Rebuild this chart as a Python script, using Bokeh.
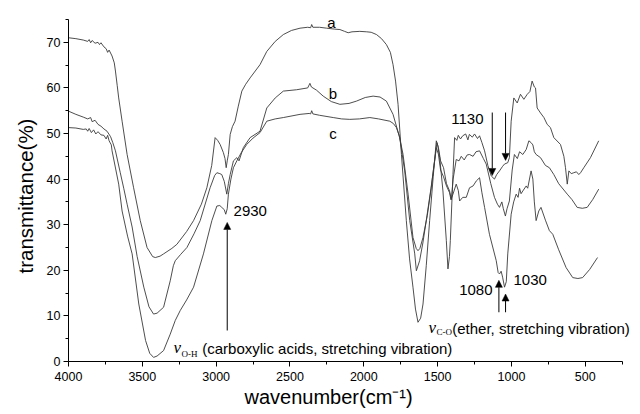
import math
from bokeh.plotting import figure
from bokeh.models import Range1d, FixedTicker, Label, Arrow, NormalHead, Title
from bokeh.embed import file_html
from bokeh.resources import INLINE

# ---- data ----
wn_a = [4000, 3950, 3900, 3870, 3860, 3850, 3840, 3820, 3800, 3790, 3780, 3760, 3745, 3735, 3725,
        3705, 3690, 3682, 3670, 3660, 3637, 3603, 3559, 3514, 3468, 3430, 3412, 3380, 3356, 3300,
        3266, 3200, 3153, 3100, 3063, 3030, 3007, 2990, 2973, 2951, 2940, 2932, 2925, 2917, 2905,
        2890, 2872, 2850, 2826, 2800, 2770, 2703, 2657, 2600, 2545, 2490, 2432, 2380, 2360, 2353,
        2345, 2300, 2252, 2200, 2162, 2130, 2106, 2080, 2027, 1980, 1950, 1914, 1880, 1847, 1820,
        1802, 1785, 1768, 1745, 1712, 1690, 1667, 1650, 1633, 1615, 1599, 1577, 1554, 1530, 1509,
        1500, 1486, 1464, 1441, 1430, 1420, 1414, 1396, 1385, 1370, 1360, 1345, 1330, 1310, 1295,
        1285, 1265, 1250, 1230, 1216, 1200, 1182, 1160, 1137, 1115, 1100, 1081, 1060, 1047, 1025,
        1014, 1002, 984, 961, 939, 916, 893, 875, 860, 845, 837, 826, 803, 780, 758, 736, 713, 668,
        645, 634, 622, 611, 595, 578, 560, 544, 532, 510, 465, 409]
t_a = [71.0, 70.8, 70.5, 70.2, 70.6, 69.9, 70.4, 69.8, 70.0, 69.5, 69.9, 69.0, 68.6, 67.8, 68.3,
       67.0, 65.5, 63.7, 60.5, 57.8, 52.7, 45.4, 38.1, 30.9, 25.0, 23.0, 22.8, 23.1, 23.6, 24.8,
       25.7, 28.5, 30.9, 34.5, 38.1, 43.0, 49.1, 48.5, 47.6, 45.8, 44.5, 42.5, 44.0, 45.4, 49.8,
       51.5, 52.7, 56.0, 59.3, 60.8, 62.2, 65.1, 68.0, 70.2, 71.7, 72.6, 73.1, 73.3, 73.2, 73.9,
       73.3, 73.3, 73.1, 72.9, 72.8, 72.4, 72.1, 72.3, 72.4, 72.3, 72.2, 71.7, 70.8, 69.5, 67.8,
       65.1, 61.5, 56.4, 45.4, 30.9, 22.5, 16.3, 11.5, 8.6, 9.5, 12.6, 21.0, 30.9, 40.5, 48.4,
       47.5, 44.7, 37.4, 26.5, 20.3, 23.0, 26.5, 41.0, 49.1, 48.5, 49.6, 48.8, 49.5, 49.9, 48.6,
       49.8, 49.2, 49.9, 48.9, 49.5, 48.0, 46.2, 43.0, 40.7, 40.0, 41.0, 41.8, 42.8, 43.3, 43.6,
       44.7, 52.7, 57.8, 56.7, 58.6, 57.5, 58.6, 59.2, 61.5, 60.2, 60.0, 55.6, 54.5, 53.5, 52.0,
       51.3, 49.1, 47.6, 45.0, 42.5, 38.9, 41.8, 41.2, 41.4, 41.6, 41.0, 41.4, 42.5, 44.7, 48.4]

wn_b = [4000, 3950, 3900, 3870, 3850, 3840, 3820, 3800, 3780, 3760, 3739, 3715, 3700, 3682, 3650,
        3626, 3603, 3569, 3535, 3490, 3455, 3424, 3400, 3356, 3311, 3290, 3277, 3240, 3198, 3150,
        3108, 3041, 3010, 2995, 2975, 2962, 2945, 2928, 2917, 2905, 2883, 2860, 2845, 2830, 2816,
        2770, 2703, 2657, 2600, 2545, 2455, 2380, 2365, 2355, 2320, 2275, 2220, 2162, 2100, 2050,
        1990, 1937, 1890, 1847, 1802, 1757, 1723, 1689, 1655, 1644, 1622, 1600, 1577, 1545, 1520,
        1505, 1495, 1480, 1460, 1440, 1419, 1407, 1395, 1374, 1355, 1340, 1320, 1300, 1284, 1260,
        1240, 1216, 1190, 1171, 1140, 1115, 1095, 1081, 1065, 1055, 1041, 1030, 1014, 995, 980,
        960, 945, 923, 900, 882, 867, 855, 845, 833, 803, 770, 743, 713, 680, 622, 590, 555, 520,
        487, 450, 409]
t_b = [54.9, 54.2, 53.6, 53.2, 53.5, 52.6, 52.9, 52.0, 51.6, 51.0, 50.5, 49.3, 48.0, 46.2, 41.5,
       38.0, 34.5, 29.5, 23.0, 16.3, 12.0, 10.4, 10.6, 11.9, 17.7, 21.0, 22.1, 23.5, 25.0, 28.0,
       30.9, 38.1, 40.8, 41.4, 41.2, 41.0, 39.5, 36.7, 39.0, 41.0, 44.0, 44.7, 44.0, 45.5, 46.9,
       49.1, 50.5, 55.6, 57.8, 59.3, 59.6, 60.0, 61.0, 60.2, 59.5, 58.2, 57.0, 56.4, 56.6, 57.1,
       57.9, 58.2, 58.0, 57.1, 54.2, 49.1, 41.8, 30.9, 23.6, 19.9, 22.1, 26.0, 30.9, 38.0, 44.0,
       48.0, 47.0, 44.0, 42.5, 39.0, 37.4, 35.5, 40.0, 44.3, 44.0, 45.0, 44.2, 45.3, 45.4, 45.0,
       46.0, 46.2, 44.5, 43.3, 39.0, 36.0, 34.5, 33.8, 35.0, 33.5, 31.9, 33.5, 35.2, 42.0, 45.4,
       44.5, 46.0, 45.4, 46.5, 48.4, 48.0, 47.5, 46.0, 45.4, 44.7, 43.0, 42.5, 41.0, 39.0, 36.7,
       35.5, 33.8, 33.6, 33.8, 35.5, 37.8]

wn_c = [4000, 3950, 3900, 3880, 3870, 3860, 3845, 3830, 3815, 3800, 3780, 3760, 3745, 3735, 3725,
        3710, 3705, 3660, 3637, 3600, 3569, 3524, 3478, 3450, 3424, 3400, 3356, 3311, 3277, 3243,
        3200, 3153, 3086, 3029, 2995, 2975, 2962, 2945, 2935, 2925, 2917, 2900, 2883, 2860, 2830,
        2793, 2750, 2703, 2657, 2600, 2545, 2432, 2370, 2360, 2353, 2345, 2300, 2207, 2150, 2095,
        2030, 1959, 1900, 1824, 1800, 1779, 1760, 1734, 1700, 1667, 1645, 1633, 1620, 1599, 1570,
        1543, 1525, 1509, 1495, 1480, 1460, 1440, 1419, 1410, 1396, 1374, 1360, 1351, 1330, 1306,
        1284, 1260, 1238, 1216, 1200, 1182, 1149, 1103, 1090, 1081, 1070, 1060, 1047, 1035, 1025,
        1002, 985, 968, 955, 945, 935, 923, 900, 890, 867, 855, 845, 833, 815, 800, 770, 743, 720,
        680, 630, 585, 550, 518, 470, 417]
t_c = [51.3, 51.2, 50.9, 51.0, 50.5, 51.1, 50.2, 50.8, 49.9, 50.4, 49.7, 49.6, 48.8, 49.6, 48.4,
       47.5, 46.2, 38.9, 33.0, 27.5, 23.6, 12.6, 4.6, 1.8, 0.9, 1.2, 2.4, 6.0, 9.0, 11.2,
       13.5, 16.3, 23.6, 30.9, 34.1, 34.2, 33.8, 33.3, 32.3, 33.5, 36.7, 40.0, 42.5, 44.0, 45.8,
       47.6, 49.0, 50.2, 52.7, 53.2, 53.5, 54.2, 54.4, 54.3, 55.0, 54.3, 54.0, 53.5, 53.2, 53.1,
       53.2, 53.5, 53.2, 52.7, 52.2, 51.3, 49.5, 45.4, 36.7, 27.2, 24.8, 24.3, 24.8, 27.2, 32.0,
       38.1, 43.0, 46.9, 45.5, 42.0, 40.5, 38.5, 37.0, 35.5, 36.7, 38.9, 37.5, 35.2, 36.0, 36.0,
       38.1, 38.5, 39.6, 40.3, 37.0, 33.8, 27.9, 22.1, 19.5, 19.2, 19.8, 18.5, 16.3, 17.5, 23.6,
       32.3, 35.0, 36.7, 36.0, 38.0, 36.8, 37.4, 38.5, 38.0, 41.8, 40.0, 35.0, 30.9, 33.0, 33.8,
       31.0, 28.7, 27.9, 24.5, 20.6, 18.4, 18.2, 18.4, 20.2, 22.8]

x_ticks = [4000, 3500, 3000, 2500, 2000, 1500, 1000, 500]
x_minor = [3750, 3250, 2750, 2250, 1750, 1250, 750, 250]
y_ticks = [0, 10, 20, 30, 40, 50, 60, 70]
y_minor = [5, 15, 25, 35, 45, 55, 65, 75]
x_title = "wavenumber(cm\u207b\u00b9)"
y_title = "transmittance(%)"

FONT = "Liberation Sans"
SERIF = "Liberation Serif"
LINE = "#3a3a3a"

# frame runs to the top and right edges so the labels there are not clipped;
# the axes themselves are bounded to 250..4000 and 0..75
p = figure(width=640, height=414, output_backend="svg", toolbar_location=None,
           x_range=Range1d(4000, 126), y_range=Range1d(0, 79.17),
           min_border_left=68, min_border_right=0, min_border_top=0, min_border_bottom=53)
p.outline_line_color = None
p.grid.visible = False
p.background_fill_color = "white"
p.border_fill_color = "white"

for wn, t in [(wn_a, t_a), (wn_b, t_b), (wn_c, t_c)]:
    p.line(wn, t, line_color=LINE, line_width=0.9)

for ax in (p.xaxis[0], p.yaxis[0]):
    ax.axis_line_color = "black"
    ax.axis_line_width = 1
    ax.major_tick_line_color = "black"
    ax.minor_tick_line_color = "black"
    ax.major_tick_in = 0
    ax.major_tick_out = 5
    ax.minor_tick_in = 0
    ax.minor_tick_out = 3
    ax.major_label_text_font = FONT
    ax.major_label_text_font_size = "12.5px"
    ax.major_label_text_color = "black"

p.xaxis[0].ticker = FixedTicker(ticks=x_ticks, minor_ticks=x_minor)
p.yaxis[0].ticker = FixedTicker(ticks=y_ticks, minor_ticks=y_minor)
p.xaxis[0].bounds = (250, 4000)
p.yaxis[0].bounds = (0, 75)
p.xaxis[0].major_label_standoff = 5
p.yaxis[0].major_label_standoff = 3

p.add_layout(Title(text=x_title, align="left", offset=176, text_font=FONT,
                   text_font_size="20px", text_font_style="normal", text_color="black",
                   standoff=0), "below")
p.add_layout(Title(text=y_title, align="left", offset=88, text_font=FONT,
                   text_font_size="20.5px", text_font_style="normal", text_color="black",
                   vertical_align="top", standoff=10), "left")


def lab(x, y, text, size="15px", font=FONT, align="left", style="normal"):
    p.add_layout(Label(x=x, y=y, text=text, text_font=font, text_font_size=size,
                       text_align=align, text_baseline="alphabetic", text_color="black",
                       text_font_style=style))


# curve labels
lab(2219, 74.4, "a", align="center")
lab(2209, 58.8, "b", align="center")
lab(2209, 50.0, "c", align="center")
# band labels
lab(1189, 53.1, "1130", align="right")
lab(2882, 33.1, "2930")
lab(1128, 15.6, "1080", align="right")
lab(986, 17.8, "1030")
# assignments
lab(3289, 3.07, "\u03bd", size="17px", font=SERIF, style="italic")
lab(3235, 1.54, "O-H", size="9px", font=SERIF)
lab(3094, 2.96, "(carboxylic acids, stretching vibration)")
lab(1562, 7.5, "\u03bd", size="17px", font=SERIF, style="italic")
lab(1508, 6.36, "C-O", size="9px", font=SERIF)
lab(1401, 7.24, "(ether, stretching vibration)")

# arrows
for x0, y0, y1 in [(1130, 54.6, 40.8), (1040, 54.6, 44.1), (2925, 6.8, 30.5),
                   (1085, 10.8, 17.8), (1040, 10.8, 14.8)]:
    p.add_layout(Arrow(x_start=x0, y_start=y0, x_end=x0, y_end=y1, line_color="black",
                       line_width=1,
                       end=NormalHead(size=7, fill_color="black", line_color="black",
                                      line_width=0.5)))

open("out.html", "w").write(file_html(p, INLINE))
